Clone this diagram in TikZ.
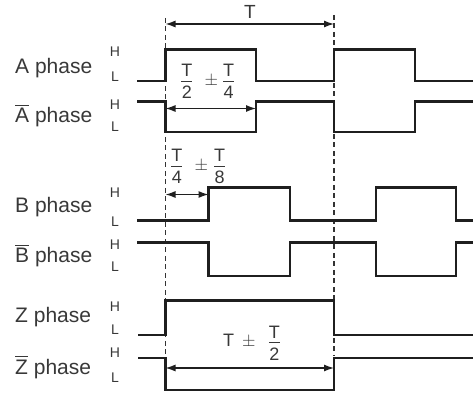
\documentclass[tikz,border=0pt]{standalone}
\usepackage{amsmath}
\usepackage{fontspec}
\setmainfont{Liberation Sans}
\usetikzlibrary{arrows.meta}
\newcommand{\hfrac}[2]{\ensuremath{\genfrac{}{}{0.7pt}{1}{\mbox{#1}\rule[-3pt]{0pt}{0pt}}{\rule{0pt}{16.5pt}\mbox{#2}}}}
\begin{document}
\begin{tikzpicture}[x=1pt,y=-1pt,
  wave/.style={line width=2.3pt, draw=black!88, line join=miter},
  dim/.style={line width=1.3pt, draw=black!88, {Latex[length=10pt,width=7pt]}-{Latex[length=10pt,width=7pt]}},
  guide/.style={line width=1.5pt, dash pattern=on 5pt off 3.5pt, draw=black!80},
  lbl/.style={font=\fontsize{21}{25}\selectfont, text=black!78, anchor=base west, inner sep=0pt},
  hl/.style={font=\fontsize{14}{16}\selectfont, text=black!78, inner sep=0pt},
  fr/.style={font=\fontsize{18}{21}\selectfont, text=black!78, inner sep=0pt, anchor=base west}]
\useasboundingbox (0,0) rectangle (474,395);

% guide lines
\coordinate (g1t) at (165.5,18);
\coordinate (g1b) at (165.5,358);
\coordinate (g2t) at (334,15);
\coordinate (g2b) at (334,356);
\draw[guide] (g1t) -- (g1b);
\draw[guide] (g2t) -- (g2b);

% waveforms
\draw[wave] (137,81) -- (165.5,81) -- (165.5,49.5) -- (256,49.5) -- (256,81) -- (334,81) -- (334,49.5) -- (415,49.5) -- (415,81) -- (473,81);
\draw[wave] (137,101.5) -- (165.5,101.5) -- (165.5,132) -- (256,132) -- (256,101.5) -- (334,101.5) -- (334,132) -- (415,132) -- (415,101.5) -- (473,101.5);
\draw[wave] (137,220.5) -- (208.5,220.5) -- (208.5,187.5) -- (290,187.5) -- (290,220.5) -- (376,220.5) -- (376,187.5) -- (456,187.5) -- (456,220.5) -- (473,220.5);
\draw[wave] (137,242.5) -- (208.5,242.5) -- (208.5,276) -- (290,276) -- (290,242.5) -- (376,242.5) -- (376,276) -- (456,276) -- (456,242.5) -- (473,242.5);
\draw[wave] (138,335) -- (165.5,335) -- (165.5,300.5) -- (334,300.5) -- (334,335) -- (473,335);
\draw[wave] (138,358) -- (165.5,358) -- (165.5,390) -- (334,390) -- (334,358) -- (473,358);

% dimension arrows
\coordinate (t1) at (165.5,24);   \coordinate (t2) at (334,24);
\coordinate (a1) at (165.5,108.5); \coordinate (a2) at (256,108.5);
\coordinate (b1) at (165.5,194.5); \coordinate (b2) at (208.5,194.5);
\coordinate (z1) at (165.5,368);  \coordinate (z2) at (334,368);
\draw[dim] (t1) -- (t2);
\draw[dim] (a1) -- (a2);
\draw[dim] (b1) -- (b2);
\draw[dim] (z1) -- (z2);

% dimension labels
\node[fr, anchor=center, font=\fontsize{19}{22}\selectfont] (tl) at (250,11.5) {T};
\node[fr] (al) at (180,85.2) {\hfrac{T}{2}\hspace{11pt}$\pm$\hspace{4pt}\hfrac{T}{4}};
\node[fr] (bl) at (170,170.2) {\hfrac{T}{4}\hspace{11pt}$\pm$\hspace{5pt}\hfrac{T}{8}};
\node[fr] (zl) at (223,347) {T\hspace{8pt}$\pm$\hspace{12pt}\hfrac{T}{2}};

% phase labels
\node[lbl] (pa)  at (15,74)  {A phase};
\node[lbl] (pab) at (15,123) {$\overline{\mbox{A}}$ phase};
\node[lbl] (pb)  at (15,213) {B phase};
\node[lbl] (pbb) at (15,263) {$\overline{\mbox{B}}$ phase};
\node[lbl] (pz)  at (15,323) {Z phase};
\node[lbl] (pzb) at (15,374) {$\overline{\mbox{Z}}$ phase};

% H / L
\node[hl] (ah)  at (115,51.5) {H};  \node[hl] (al2) at (115,77)  {L};
\node[hl] (abh) at (115,104.5) {H}; \node[hl] (abl) at (115,127) {L};
\node[hl] (bh)  at (115,193) {H};   \node[hl] (bl2) at (115,221.5) {L};
\node[hl] (bbh) at (115,244.5) {H}; \node[hl] (bbl) at (115,267) {L};
\node[hl] (zh)  at (115,307) {H};   \node[hl] (zl2) at (115,330) {L};
\node[hl] (zbh) at (115,353) {H};   \node[hl] (zbl) at (115,377.5) {L};
\end{tikzpicture}
\end{document}
